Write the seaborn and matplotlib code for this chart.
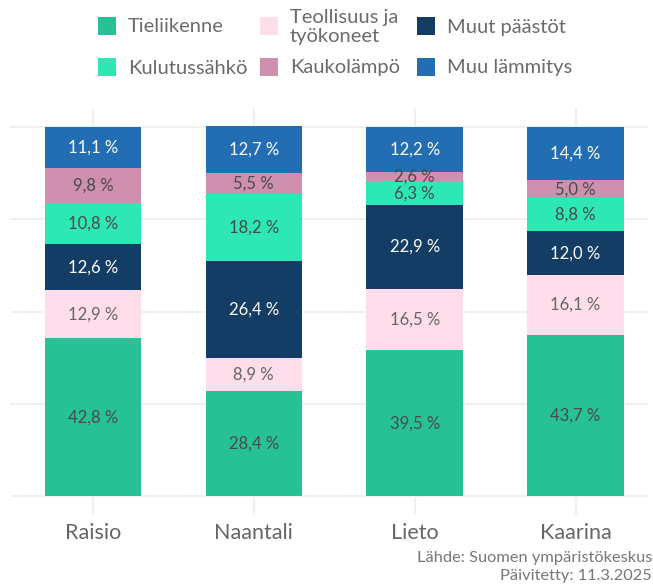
import numpy as np
import pandas as pd
import matplotlib
matplotlib.use("Agg")
import matplotlib.pyplot as plt
from matplotlib.patches import Rectangle
import seaborn as sns

# Emission shares (%) by sector for each municipality
kunnat = ["Raisio", "Naantali", "Lieto", "Kaarina"]
sektorit = ["Tieliikenne", "Teollisuus ja\ntyökoneet", "Muut päästöt",
            "Kulutussähkö", "Kaukolämpö", "Muu lämmitys"]
tieliikenne = [42.8, 28.4, 39.5, 43.7]
teollisuus = [12.9, 8.9, 16.5, 16.1]
muut = [12.6, 26.4, 22.9, 12.0]
kulutussahko = [10.8, 18.2, 6.3, 8.8]
kaukolampo = [9.8, 5.5, 2.6, 5.0]
muu_lammitys = [11.1, 12.7, 12.2, 14.4]

varit = ["#26C295", "#FFDDEB", "#143D66", "#2DE8B4", "#CF8FAE", "#236EB2"]
tekstivarit = ["#4a4a4a", "#666666", "#ffffff", "#4a4a4a", "#4a4a4a", "#ffffff"]

sarjat = [tieliikenne, teollisuus, muut, kulutussahko, kaukolampo, muu_lammitys]
arvot = np.array(sarjat)
kumul = np.cumsum(arvot, axis=0)

sns.set_theme(style="white")
plt.rcParams["font.family"] = ["Lato", "DejaVu Sans"]

W, H = 653, 584
fig = plt.figure(figsize=(W / 100, H / 100), dpi=100)
ax = fig.add_axes([10 / W, 1 - 515 / H, 638 / W, (515 - 108) / H])

# Stacked bars: draw cumulative totals from the top layer down
for i in range(len(sarjat) - 1, -1, -1):
    df = pd.DataFrame({"kunta": kunnat, "arvo": kumul[i]})
    sns.barplot(data=df, x="kunta", y="arvo", color=varit[i], saturation=1,
                width=0.6, ax=ax, zorder=2, linewidth=0)

# Segment labels
for i in range(len(sarjat)):
    for j in range(len(kunnat)):
        alku = kumul[i][j] - arvot[i][j]
        keski = alku + arvot[i][j] / 2
        teksti = f"{arvot[i][j]:.1f} %".replace(".", ",")
        ax.text(j, keski, teksti, ha="center", va="center", fontsize=12,
                color=tekstivarit[i], zorder=3)

ax.set_ylim(-5.1, 105.1)
ax.set_xlim(-0.515, 3.45)
ax.set_yticks([0, 25, 50, 75, 100])
ax.set_yticklabels([])
ax.tick_params(axis="y", length=0)
ax.tick_params(axis="x", length=0, labelsize=15.5, labelcolor="#666666", pad=6)
ax.set_xlabel("")
ax.set_ylabel("")
ax.grid(True, axis="both", color="#F0F0F0", linewidth=1.6, zorder=0)
ax.set_axisbelow(True)
for s in ax.spines.values():
    s.set_visible(False)

# Legend laid out on a fixed 3x2 grid so both rows line up across columns
sarake_x = [98, 260, 417]
rivi_y = [26, 67]
koko = 18
for k, (nimi, vari) in enumerate(zip(sektorit, varit)):
    r, c = divmod(k, 3)
    x0, yc = sarake_x[c], rivi_y[r]
    fig.add_artist(Rectangle((x0 / W, 1 - (yc + koko / 2) / H), koko / W, koko / H,
                             transform=fig.transFigure, facecolor=vari,
                             edgecolor="none"))
    fig.text((x0 + koko + 12) / W, 1 - (yc + 1) / H, nimi, ha="left", va="center",
             fontsize=14.5, color="#6b6b6b", linespacing=1.1)

fig.text(652 / W, 1 - 558 / H, "Lähde: Suomen ympäristökeskus", ha="right",
         va="center", fontsize=11.8, color="#777777")
fig.text(652 / W, 1 - 576 / H, "Päivitetty: 11.3.2025", ha="right",
         va="center", fontsize=11.8, color="#777777")

fig.savefig("out.png", dpi=100)
